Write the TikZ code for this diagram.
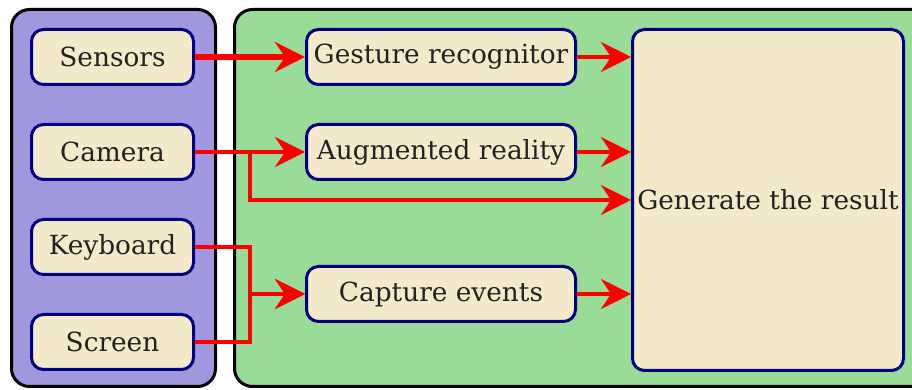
\documentclass[tikz,border=0pt]{standalone}
\usepackage{fontspec}
\setmainfont{DejaVu Serif}
\usetikzlibrary{positioning, arrows.meta}

\definecolor{inputfill}{RGB}{160,152,220}
\definecolor{modulefill}{RGB}{152,220,152}
\definecolor{boxfill}{RGB}{243,234,203}
\definecolor{boxborder}{RGB}{0,0,128}
\definecolor{textgray}{RGB}{34,34,34}

\begin{document}
\begin{tikzpicture}[
        node distance=0.74cm,
        panel/.style={rectangle, draw=black, line width=0.06cm, rounded corners=0.36cm},
        box/.style={rectangle, draw=boxborder, line width=0.06cm, rounded corners=0.24cm,
                    fill=boxfill, text=textgray, minimum width=3.24cm,
                    minimum height=1.1cm, inner sep=0pt, font=\fontsize{15}{18}\selectfont},
        flow/.style={draw=red, line width=0.08cm,
                     -{Stealth[length=0.6cm, width=0.6cm, inset=0.2cm]}}
    ]
        \useasboundingbox (0,0) rectangle (18.24,7.8);

        % containers
        \node[panel, fill=inputfill, minimum width=4.08cm, minimum height=7.54cm] (inputs) at (2.27,3.84) {};
        \node[panel, fill=modulefill, minimum width=13.91cm, minimum height=7.54cm] (modules) at (11.645,3.84) {};

        % input devices
        \node[box] (sensors) at (2.25,6.66) {Sensors};
        \node[box, below=of sensors] (camera) {Camera};
        \node[box, below=of camera] (keyboard) {Keyboard};
        \node[box, below=of keyboard] (screen) {Screen};

        % processing
        \node[box, minimum width=5.38cm, right=2.2cm of sensors] (gesture) {Gesture recognitor};
        \node[box, minimum width=5.38cm, below=of gesture] (augmented) {Augmented reality};
        \node[box, minimum width=5.38cm, below=1.68cm of augmented] (capture) {Capture events};
        \node[box, minimum width=5.42cm, minimum height=6.82cm,
              below right=0cm and 1.08cm of gesture.north east] (result) {Generate the result};

        \draw[flow, line width=0.12cm] (sensors) -- (gesture);
        \draw[flow] (camera) -- (augmented);
        \draw[flow] (camera.east) -- ++(1.1,0) |- (result);
        \draw[flow] (keyboard.east) -- ++(1.1,0) |- (capture);
        \draw[flow] (screen.east) -- ++(1.1,0) |- (capture);
        \draw[flow] (gesture) -- (gesture -| result.west);
        \draw[flow] (augmented) -- (augmented -| result.west);
        \draw[flow] (capture) -- (capture -| result.west);
    \end{tikzpicture}
\end{document}
